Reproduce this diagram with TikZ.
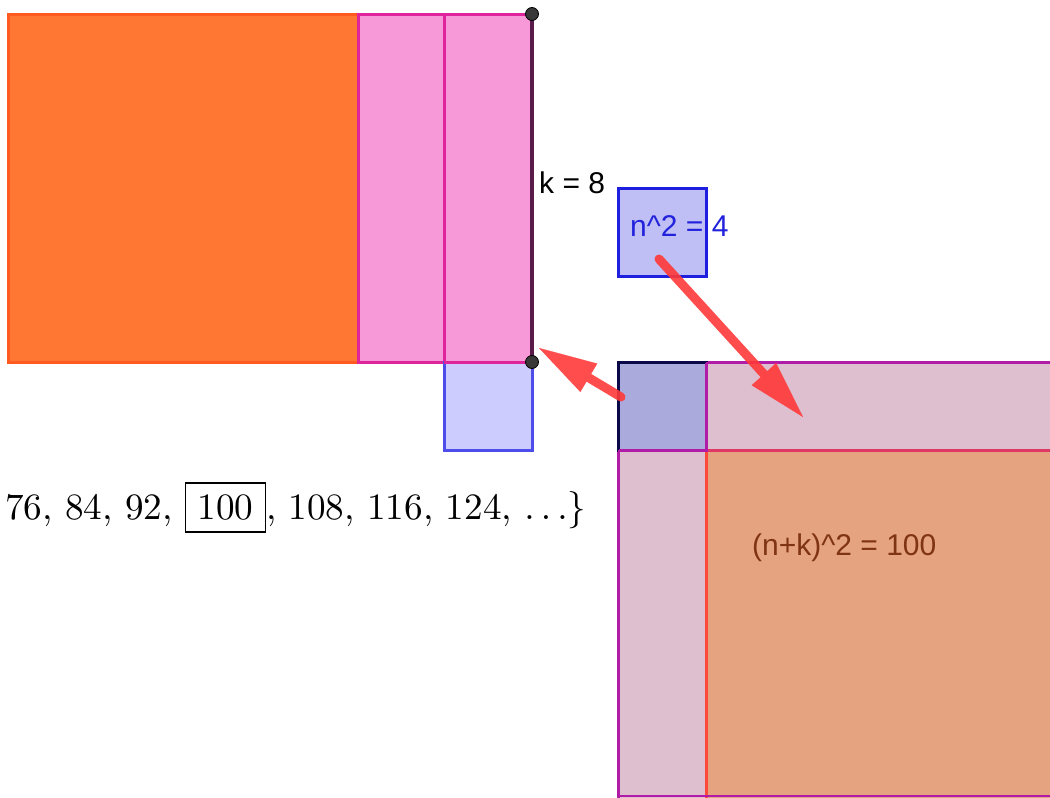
\documentclass[tikz,border=0pt]{standalone}
\usepackage{fontspec}
\newfontfamily\labelfont{Liberation Sans}
\usetikzlibrary{arrows.meta}
\definecolor{orA}{HTML}{FF7733}
\definecolor{orAline}{HTML}{FF5A1F}
\definecolor{pkA}{HTML}{F799D8}
\definecolor{pkAline}{HTML}{E0249C}
\definecolor{blA}{HTML}{CCCCFF}
\definecolor{blAline}{HTML}{4D4DEB}
\definecolor{blN}{HTML}{BFBFF5}
\definecolor{blNline}{HTML}{1F1FE0}
\definecolor{blB}{HTML}{AAAADD}
\definecolor{navy}{HTML}{0A0A4A}
\definecolor{pkB}{HTML}{DDBFD0}
\definecolor{pkBline}{HTML}{B01CA8}
\definecolor{orB}{HTML}{E6A380}
\definecolor{orBline}{HTML}{FF4A3A}
\definecolor{segk}{HTML}{5A1A4A}
\definecolor{arrred}{HTML}{FF3838}
\definecolor{txtblue}{HTML}{2222DD}
\definecolor{txtbrown}{HTML}{7F3414}
\tikzset{
  shapeline/.style={line width=3pt},
  redarrow/.style={draw=arrred, line width=9pt, line cap=round,
    -{Triangle[length=58pt,width=33pt,line width=0.1pt]}},
  ptdot/.style={circle, fill=black!78, draw=black, line width=0.8pt, minimum size=13pt, inner sep=0pt},
  lbl/.style={font=\labelfont\fontsize{30}{34}\selectfont, inner sep=0pt}
}
\begin{document}
\begin{tikzpicture}[x=1pt,y=-1pt]
\useasboundingbox (0,0) rectangle (1050,798);
\clip (0,0) rectangle (1050,798);
% top-left figure
\draw[shapeline, fill=orA, draw=orAline] (8,14) rectangle (358,362);
\draw[shapeline, fill=pkA, draw=pkAline] (358,14) rectangle (444,362);
\draw[shapeline, fill=pkA, draw=pkAline] (444,14) rectangle (532,362);
\draw[shapeline, fill=blA, draw=blAline] (444,362) rectangle (532,450);
\draw[shapeline, draw=pkAline] (444,362) -- (532,362);
\draw[line width=3.5pt, draw=segk] (532,14) -- (532,362);
\node[ptdot] (ptop) at (532,14) {};
\node[ptdot] (pbot) at (532,362) {};
\node[lbl, anchor=west] (klab) at (539,183) {k = 8};
% n^2 square
\draw[shapeline, fill=blN, draw=blNline] (618,188) rectangle (706,276);
\node[lbl, anchor=west, text=txtblue] (nlab) at (630,226) {n\^{}2 = 4};
% bottom-right figure
\draw[shapeline, fill=pkB, draw=pkBline] (706,362) rectangle (1070,450);
\draw[shapeline, fill=pkB, draw=pkBline] (618,450) rectangle (706,810);
\draw[shapeline, fill=orB, draw=orBline] (706,450) rectangle (1070,810);
\draw[shapeline, draw=orBline!60!pkBline] (706,450) -- (1070,450);
\draw[shapeline, fill=blB, draw=navy] (618,362) rectangle (706,450);
\draw[shapeline, draw=pkBline] (706,362) -- (706,450) -- (618,450);
\draw[line width=2pt, draw=navy] (618,450) -- (618,362) -- (706,362);
\draw[line width=2pt, draw=pkBline] (618,796) -- (1070,796);
\node[lbl, anchor=west, text=txtbrown] (nklab) at (752,548) {(n+k)\^{}2 = 100};
% sequence
\node[anchor=base west, inner sep=0pt] (seq) at (5,519.5)
  {\scalebox{3.72}{76, 84, 92, \fbox{100}, 108, 116, 124, $\ldots\}$}};
% arrows
\coordinate (a1s) at (621,397);
\coordinate (a1e) at (539,348);
\coordinate (a2s) at (659,259);
\coordinate (a2e) at (803,417);
\begin{scope}[transparency group, opacity=0.9]
\draw[redarrow] (a1s) -- (a1e);
\end{scope}
\begin{scope}[transparency group, opacity=0.9]
\draw[redarrow] (a2s) -- (a2e);
\end{scope}
\end{tikzpicture}
\end{document}
